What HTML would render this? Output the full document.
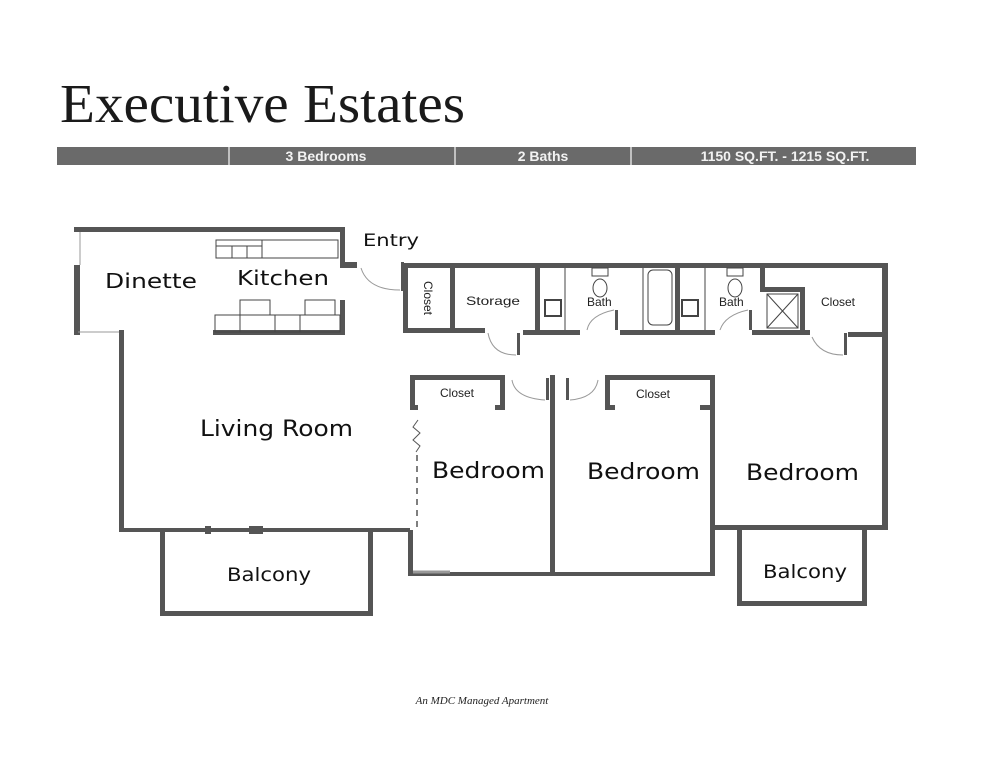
<!DOCTYPE html>
<html><head><meta charset="utf-8"><style>
html,body{margin:0;padding:0;background:#fff;}
svg{display:block;}
</style></head><body>
<svg width="994" height="768" viewBox="0 0 994 768" xmlns="http://www.w3.org/2000/svg">
<rect width="994" height="768" fill="#fff"/>
<text x="60" y="122" font-family="Liberation Serif, serif" font-size="55" fill="#1a1a1a" textLength="405" lengthAdjust="spacingAndGlyphs">Executive Estates</text>
<rect x="57" y="147" width="859" height="18" fill="#6a6a6a"/>
<g stroke="#ddd" stroke-width="1.5"><line x1="229" y1="147" x2="229" y2="165"/><line x1="455" y1="147" x2="455" y2="165"/><line x1="631" y1="147" x2="631" y2="165"/></g>
<g font-family="Liberation Sans, sans-serif" font-size="14" font-weight="bold" fill="#f2f2f2" text-anchor="middle">
<text x="326" y="161">3 Bedrooms</text><text x="543" y="161">2 Baths</text><text x="785" y="161">1150 SQ.FT. - 1215 SQ.FT.</text></g>

<g fill="#555">
<rect x="74" y="227" width="271" height="5"/>
<rect x="340" y="227" width="5" height="41"/>
<rect x="340" y="262" width="17" height="6"/>
<rect x="74" y="265" width="6" height="70"/>
<rect x="119" y="330" width="5" height="202"/>
<rect x="213" y="330" width="132" height="5"/>
<rect x="340" y="300" width="5" height="35"/>
<rect x="119" y="528" width="291" height="4"/>
<rect x="205" y="526" width="6" height="8"/>
<rect x="249" y="526" width="14" height="8"/>
<rect x="160" y="530" width="5" height="86"/>
<rect x="160" y="611" width="213" height="5"/>
<rect x="368" y="530" width="5" height="86"/>
<rect x="408" y="530" width="5" height="46"/>
<rect x="408" y="572" width="147" height="4"/>
<rect x="550" y="375" width="5" height="201"/>
<rect x="555" y="572" width="160" height="4"/>
<rect x="710" y="375" width="5" height="201"/>
<rect x="715" y="525" width="173" height="5"/>
<rect x="882" y="263" width="6" height="267"/>
<rect x="410" y="375" width="95" height="5"/><rect x="410" y="375" width="5" height="35"/><rect x="500" y="375" width="5" height="35"/>
<rect x="410" y="405" width="8" height="5"/><rect x="495" y="405" width="10" height="5"/>
<rect x="605" y="375" width="110" height="5"/><rect x="605" y="375" width="5" height="35"/>
<rect x="605" y="405" width="10" height="5"/><rect x="700" y="405" width="15" height="5"/>
<rect x="737" y="530" width="5" height="76"/><rect x="737" y="601" width="130" height="5"/><rect x="862" y="530" width="5" height="76"/>
<rect x="403" y="263" width="485" height="5"/>
<rect x="403" y="263" width="5" height="70"/>
<rect x="403" y="328" width="82" height="5"/>
<rect x="450" y="263" width="5" height="70"/>
<rect x="535" y="263" width="5" height="72"/>
<rect x="523" y="330" width="57" height="5"/>
<rect x="620" y="330" width="95" height="5"/>
<rect x="675" y="263" width="5" height="72"/>
<rect x="760" y="263" width="5" height="29"/>
<rect x="760" y="287" width="45" height="5"/>
<rect x="800" y="287" width="5" height="48"/>
<rect x="752" y="330" width="58" height="5"/>
<rect x="848" y="332" width="40" height="5"/>
<rect x="401" y="262" width="3" height="29"/>
<rect x="517" y="333" width="3" height="22"/>
<rect x="615" y="310" width="3" height="20"/>
<rect x="749" y="310" width="3" height="20"/>
<rect x="844" y="333" width="3" height="22"/>
<rect x="546" y="378" width="3" height="22"/>
<rect x="566" y="378" width="3" height="22"/>
</g>
<g fill="none" stroke="#444" stroke-width="1">
<rect x="216" y="240" width="122" height="18"/>
<line x1="216" y1="246" x2="262" y2="246"/>
<line x1="232" y1="246" x2="232" y2="258"/><line x1="247" y1="246" x2="247" y2="258"/><line x1="262" y1="240" x2="262" y2="258"/>
<rect x="215" y="315" width="125" height="17"/>
<rect x="240" y="300" width="30" height="15"/><rect x="305" y="300" width="30" height="15"/>
<line x1="240" y1="315" x2="240" y2="332"/><line x1="275" y1="315" x2="275" y2="332"/><line x1="300" y1="315" x2="300" y2="332"/>
<path d="M80 265 L80 232 M78 332 L119 332" stroke="#999"/>
<path d="M361 268 Q368 290 400 290" stroke="#999"/>
<path d="M488 333 Q492 355 516 355" stroke="#999"/>
<path d="M587 330 Q590 315 614 310" stroke="#999"/>
<path d="M720 330 Q725 315 748 310" stroke="#999"/>
<path d="M812 337 Q820 355 843 355" stroke="#999"/>
<path d="M512 380 Q515 398 545 400" stroke="#999"/>
<path d="M598 380 Q595 398 570 400" stroke="#999"/>
<rect x="545" y="300" width="16" height="16" stroke-width="2"/>
<rect x="682" y="300" width="16" height="16" stroke-width="2"/>
<line x1="565" y1="268" x2="565" y2="330"/><line x1="643" y1="268" x2="643" y2="330"/><line x1="705" y1="268" x2="705" y2="330"/>
<rect x="648" y="270" width="24" height="55" rx="5"/>
<ellipse cx="600" cy="288" rx="7" ry="9"/><rect x="592" y="268" width="16" height="8"/>
<ellipse cx="735" cy="288" rx="7" ry="9"/><rect x="727" y="268" width="16" height="8"/>
<rect x="767" y="294" width="31" height="34"/><line x1="767" y1="294" x2="798" y2="328"/><line x1="798" y1="294" x2="767" y2="328"/>
<path d="M418 420 L413 427 L420 433 L413 440 L420 446 L416 452" stroke="#555"/>
<line x1="417" y1="455" x2="417" y2="530" stroke="#555" stroke-dasharray="6 5" stroke-width="1.5"/>
<line x1="413" y1="572" x2="450" y2="572" stroke="#999" stroke-width="3"/>
</g>
<g font-family="DejaVu Sans, sans-serif" fill="#111" lengthAdjust="spacingAndGlyphs">
<text x="105" y="288" font-size="20" textLength="92" lengthAdjust="spacingAndGlyphs">Dinette</text>
<text x="237" y="285" font-size="20" textLength="92" lengthAdjust="spacingAndGlyphs">Kitchen</text>
<text x="363" y="246" font-size="17" textLength="56" lengthAdjust="spacingAndGlyphs">Entry</text>
<text x="200" y="436" font-size="22" textLength="153" lengthAdjust="spacingAndGlyphs">Living Room</text>
<text x="432" y="478" font-size="22" textLength="113" lengthAdjust="spacingAndGlyphs">Bedroom</text>
<text x="587" y="479" font-size="22" textLength="113" lengthAdjust="spacingAndGlyphs">Bedroom</text>
<text x="746" y="480" font-size="22" textLength="113" lengthAdjust="spacingAndGlyphs">Bedroom</text>
<text x="227" y="581" font-size="19" textLength="84" lengthAdjust="spacingAndGlyphs">Balcony</text>
<text x="763" y="578" font-size="19" textLength="84" lengthAdjust="spacingAndGlyphs">Balcony</text>
</g>
<g font-family="Liberation Sans, sans-serif" fill="#222" font-size="12">
<text x="466" y="305" textLength="54" lengthAdjust="spacingAndGlyphs">Storage</text>
<text x="587" y="306">Bath</text>
<text x="719" y="306">Bath</text>
<text x="821" y="306">Closet</text>
<text x="440" y="397">Closet</text>
<text x="636" y="398">Closet</text>
<text transform="translate(424,298) rotate(90)" text-anchor="middle">Closet</text>
</g>
<text x="482" y="704" font-family="Liberation Serif, serif" font-style="italic" font-size="11" text-anchor="middle" fill="#222">An MDC Managed Apartment</text>
</svg>
</body></html>
